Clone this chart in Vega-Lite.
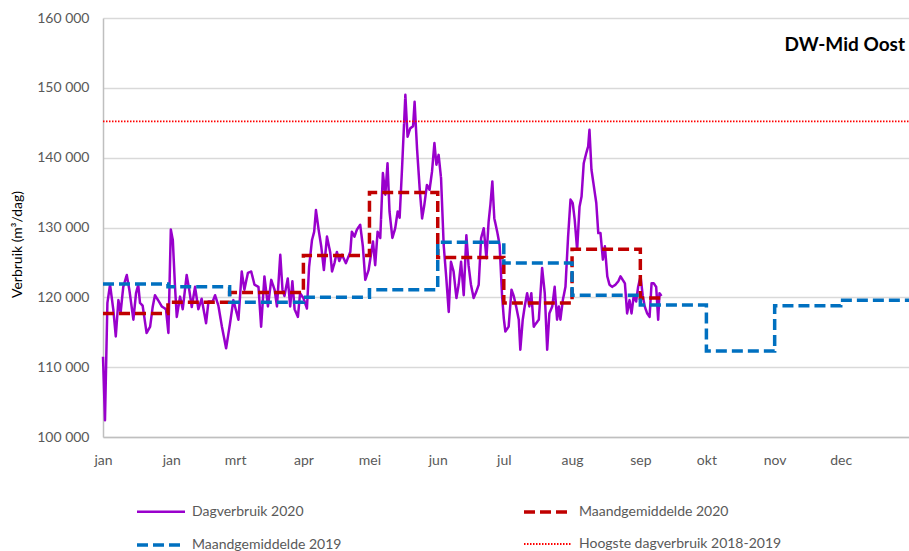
{
  "$schema": "https://vega.github.io/schema/vega-lite/v6.json",
  "width": 806,
  "height": 419,
  "autosize": {"type": "none"},
  "padding": {"left": 103, "top": 18, "right": 0, "bottom": 114},
  "background": "white",
  "config": {"view": {"stroke": null}, "font": "Lato", "legend": {"rowPadding": 0}},
  "title": {"text": "DW-Mid Oost", "anchor": "end", "frame": "group", "orient": "top", "offset": -44, "fontSize": 19, "fontWeight": "bold", "color": "#000000", "dx": -4},
  "datasets": {
    "dag": [
      {"s":"Dagverbruik 2020","d":0,"v":111500},{"s":"Dagverbruik 2020","d":0.9,"v":102400},{"s":"Dagverbruik 2020","d":2,"v":119200},{"s":"Dagverbruik 2020","d":3.2,"v":121800},{"s":"Dagverbruik 2020","d":4.7,"v":118200},{"s":"Dagverbruik 2020","d":5.8,"v":114400},{"s":"Dagverbruik 2020","d":7,"v":119600},{"s":"Dagverbruik 2020","d":8,"v":117800},{"s":"Dagverbruik 2020","d":9.2,"v":121500},{"s":"Dagverbruik 2020","d":10.8,"v":123200},{"s":"Dagverbruik 2020","d":12,"v":121000},{"s":"Dagverbruik 2020","d":13.8,"v":116800},{"s":"Dagverbruik 2020","d":15,"v":120600},{"s":"Dagverbruik 2020","d":16,"v":121800},{"s":"Dagverbruik 2020","d":16.8,"v":119200},{"s":"Dagverbruik 2020","d":18,"v":118800},{"s":"Dagverbruik 2020","d":19.8,"v":114900},{"s":"Dagverbruik 2020","d":21.4,"v":115800},{"s":"Dagverbruik 2020","d":22.6,"v":118700},{"s":"Dagverbruik 2020","d":23.6,"v":120300},{"s":"Dagverbruik 2020","d":25.2,"v":119500},{"s":"Dagverbruik 2020","d":26.7,"v":118700},{"s":"Dagverbruik 2020","d":28.6,"v":118300},{"s":"Dagverbruik 2020","d":29.7,"v":114900},{"s":"Dagverbruik 2020","d":30.8,"v":129700},{"s":"Dagverbruik 2020","d":31.7,"v":128200},{"s":"Dagverbruik 2020","d":32.7,"v":121500},{"s":"Dagverbruik 2020","d":33.5,"v":117200},{"s":"Dagverbruik 2020","d":35,"v":120100},{"s":"Dagverbruik 2020","d":36.2,"v":118300},{"s":"Dagverbruik 2020","d":38,"v":123200},{"s":"Dagverbruik 2020","d":39.2,"v":121000},{"s":"Dagverbruik 2020","d":40.3,"v":118600},{"s":"Dagverbruik 2020","d":41.8,"v":121500},{"s":"Dagverbruik 2020","d":43.3,"v":118300},{"s":"Dagverbruik 2020","d":44.8,"v":119800},{"s":"Dagverbruik 2020","d":46.8,"v":116300},{"s":"Dagverbruik 2020","d":47.9,"v":119400},{"s":"Dagverbruik 2020","d":49.8,"v":119400},{"s":"Dagverbruik 2020","d":50.9,"v":120300},{"s":"Dagverbruik 2020","d":52.4,"v":118800},{"s":"Dagverbruik 2020","d":54,"v":115800},{"s":"Dagverbruik 2020","d":55.9,"v":112700},{"s":"Dagverbruik 2020","d":57.7,"v":116300},{"s":"Dagverbruik 2020","d":59.2,"v":119600},{"s":"Dagverbruik 2020","d":61.5,"v":116800},{"s":"Dagverbruik 2020","d":63,"v":123700},{"s":"Dagverbruik 2020","d":64.2,"v":121100},{"s":"Dagverbruik 2020","d":65.8,"v":123500},{"s":"Dagverbruik 2020","d":67.3,"v":123700},{"s":"Dagverbruik 2020","d":68.8,"v":121800},{"s":"Dagverbruik 2020","d":70.6,"v":121500},{"s":"Dagverbruik 2020","d":71.8,"v":115800},{"s":"Dagverbruik 2020","d":73.3,"v":123000},{"s":"Dagverbruik 2020","d":74.9,"v":118700},{"s":"Dagverbruik 2020","d":76.4,"v":122500},{"s":"Dagverbruik 2020","d":77.9,"v":121100},{"s":"Dagverbruik 2020","d":79,"v":118700},{"s":"Dagverbruik 2020","d":80.5,"v":126100},{"s":"Dagverbruik 2020","d":81.5,"v":121100},{"s":"Dagverbruik 2020","d":82.4,"v":120200},{"s":"Dagverbruik 2020","d":83.9,"v":122700},{"s":"Dagverbruik 2020","d":85,"v":118700},{"s":"Dagverbruik 2020","d":86,"v":122300},{"s":"Dagverbruik 2020","d":87,"v":118300},{"s":"Dagverbruik 2020","d":88.5,"v":117200},{"s":"Dagverbruik 2020","d":89.5,"v":120600},{"s":"Dagverbruik 2020","d":91,"v":119900},{"s":"Dagverbruik 2020","d":92.6,"v":118400},{"s":"Dagverbruik 2020","d":93.6,"v":124400},{"s":"Dagverbruik 2020","d":94.9,"v":128200},{"s":"Dagverbruik 2020","d":95.9,"v":129400},{"s":"Dagverbruik 2020","d":96.7,"v":132500},{"s":"Dagverbruik 2020","d":97.9,"v":129700},{"s":"Dagverbruik 2020","d":99.1,"v":127300},{"s":"Dagverbruik 2020","d":100.3,"v":123900},{"s":"Dagverbruik 2020","d":101.7,"v":128700},{"s":"Dagverbruik 2020","d":103.2,"v":126400},{"s":"Dagverbruik 2020","d":104,"v":123700},{"s":"Dagverbruik 2020","d":105.1,"v":124900},{"s":"Dagverbruik 2020","d":106.2,"v":126500},{"s":"Dagverbruik 2020","d":107.3,"v":125200},{"s":"Dagverbruik 2020","d":108.5,"v":126100},{"s":"Dagverbruik 2020","d":110.3,"v":124900},{"s":"Dagverbruik 2020","d":112.3,"v":126500},{"s":"Dagverbruik 2020","d":113,"v":129400},{"s":"Dagverbruik 2020","d":114.2,"v":128700},{"s":"Dagverbruik 2020","d":115.3,"v":129700},{"s":"Dagverbruik 2020","d":116.8,"v":130400},{"s":"Dagverbruik 2020","d":118,"v":127300},{"s":"Dagverbruik 2020","d":119.1,"v":122500},{"s":"Dagverbruik 2020","d":120.6,"v":123900},{"s":"Dagverbruik 2020","d":122.6,"v":128000},{"s":"Dagverbruik 2020","d":123.6,"v":124600},{"s":"Dagverbruik 2020","d":124.7,"v":129400},{"s":"Dagverbruik 2020","d":125.9,"v":128500},{"s":"Dagverbruik 2020","d":127.1,"v":137800},{"s":"Dagverbruik 2020","d":128.2,"v":134700},{"s":"Dagverbruik 2020","d":129.2,"v":139200},{"s":"Dagverbruik 2020","d":130.1,"v":132300},{"s":"Dagverbruik 2020","d":131.4,"v":128500},{"s":"Dagverbruik 2020","d":132.7,"v":129900},{"s":"Dagverbruik 2020","d":133.8,"v":132300},{"s":"Dagverbruik 2020","d":134.7,"v":131400},{"s":"Dagverbruik 2020","d":135.8,"v":138500},{"s":"Dagverbruik 2020","d":137.3,"v":149000},{"s":"Dagverbruik 2020","d":138.3,"v":143000},{"s":"Dagverbruik 2020","d":139.5,"v":144200},{"s":"Dagverbruik 2020","d":140.8,"v":144500},{"s":"Dagverbruik 2020","d":141.5,"v":148000},{"s":"Dagverbruik 2020","d":142.6,"v":141300},{"s":"Dagverbruik 2020","d":143.8,"v":135600},{"s":"Dagverbruik 2020","d":144.9,"v":131300},{"s":"Dagverbruik 2020","d":145.9,"v":133200},{"s":"Dagverbruik 2020","d":147.1,"v":136100},{"s":"Dagverbruik 2020","d":148.3,"v":135400},{"s":"Dagverbruik 2020","d":149.4,"v":138000},{"s":"Dagverbruik 2020","d":150.5,"v":142100},{"s":"Dagverbruik 2020","d":151.4,"v":139000},{"s":"Dagverbruik 2020","d":152.4,"v":140400},{"s":"Dagverbruik 2020","d":153.5,"v":137100},{"s":"Dagverbruik 2020","d":154.7,"v":127500},{"s":"Dagverbruik 2020","d":155.9,"v":122700},{"s":"Dagverbruik 2020","d":157,"v":117900},{"s":"Dagverbruik 2020","d":158,"v":125100},{"s":"Dagverbruik 2020","d":159.2,"v":123700},{"s":"Dagverbruik 2020","d":160.5,"v":119900},{"s":"Dagverbruik 2020","d":161.5,"v":121800},{"s":"Dagverbruik 2020","d":162.6,"v":125100},{"s":"Dagverbruik 2020","d":163.8,"v":120300},{"s":"Dagverbruik 2020","d":165,"v":128900},{"s":"Dagverbruik 2020","d":166,"v":124600},{"s":"Dagverbruik 2020","d":167.1,"v":121800},{"s":"Dagverbruik 2020","d":168.3,"v":119900},{"s":"Dagverbruik 2020","d":169.5,"v":120800},{"s":"Dagverbruik 2020","d":170.6,"v":121800},{"s":"Dagverbruik 2020","d":171.7,"v":128500},{"s":"Dagverbruik 2020","d":172.9,"v":129900},{"s":"Dagverbruik 2020","d":174.1,"v":125600},{"s":"Dagverbruik 2020","d":175.1,"v":130800},{"s":"Dagverbruik 2020","d":175.9,"v":133200},{"s":"Dagverbruik 2020","d":176.8,"v":136600},{"s":"Dagverbruik 2020","d":177.7,"v":131300},{"s":"Dagverbruik 2020","d":179,"v":129400},{"s":"Dagverbruik 2020","d":180.1,"v":127500},{"s":"Dagverbruik 2020","d":181.2,"v":120300},{"s":"Dagverbruik 2020","d":182,"v":117000},{"s":"Dagverbruik 2020","d":182.7,"v":115100},{"s":"Dagverbruik 2020","d":184.2,"v":115800},{"s":"Dagverbruik 2020","d":185.5,"v":121100},{"s":"Dagverbruik 2020","d":186.5,"v":120200},{"s":"Dagverbruik 2020","d":187.6,"v":118700},{"s":"Dagverbruik 2020","d":188.8,"v":116800},{"s":"Dagverbruik 2020","d":189.5,"v":112500},{"s":"Dagverbruik 2020","d":190.6,"v":116800},{"s":"Dagverbruik 2020","d":191.5,"v":118700},{"s":"Dagverbruik 2020","d":192.6,"v":120600},{"s":"Dagverbruik 2020","d":193.6,"v":118700},{"s":"Dagverbruik 2020","d":194.5,"v":120600},{"s":"Dagverbruik 2020","d":195.6,"v":115800},{"s":"Dagverbruik 2020","d":196.7,"v":116300},{"s":"Dagverbruik 2020","d":197.9,"v":116800},{"s":"Dagverbruik 2020","d":199.4,"v":124200},{"s":"Dagverbruik 2020","d":200.6,"v":120600},{"s":"Dagverbruik 2020","d":201.7,"v":112500},{"s":"Dagverbruik 2020","d":202.7,"v":117700},{"s":"Dagverbruik 2020","d":204,"v":118700},{"s":"Dagverbruik 2020","d":205.1,"v":121500},{"s":"Dagverbruik 2020","d":206.2,"v":116800},{"s":"Dagverbruik 2020","d":207,"v":118700},{"s":"Dagverbruik 2020","d":207.7,"v":116800},{"s":"Dagverbruik 2020","d":208.8,"v":119600},{"s":"Dagverbruik 2020","d":210,"v":121500},{"s":"Dagverbruik 2020","d":211.2,"v":128700},{"s":"Dagverbruik 2020","d":212.3,"v":134000},{"s":"Dagverbruik 2020","d":213.3,"v":133500},{"s":"Dagverbruik 2020","d":214.2,"v":131100},{"s":"Dagverbruik 2020","d":215.3,"v":126800},{"s":"Dagverbruik 2020","d":216.4,"v":133000},{"s":"Dagverbruik 2020","d":217.3,"v":134400},{"s":"Dagverbruik 2020","d":218.3,"v":139200},{"s":"Dagverbruik 2020","d":219.4,"v":140600},{"s":"Dagverbruik 2020","d":220.3,"v":141600},{"s":"Dagverbruik 2020","d":220.9,"v":144000},{"s":"Dagverbruik 2020","d":221.8,"v":138300},{"s":"Dagverbruik 2020","d":222.9,"v":135900},{"s":"Dagverbruik 2020","d":224,"v":133500},{"s":"Dagverbruik 2020","d":224.9,"v":129200},{"s":"Dagverbruik 2020","d":225.9,"v":129200},{"s":"Dagverbruik 2020","d":227,"v":125400},{"s":"Dagverbruik 2020","d":227.9,"v":127300},{"s":"Dagverbruik 2020","d":229,"v":123000},{"s":"Dagverbruik 2020","d":230,"v":121800},{"s":"Dagverbruik 2020","d":231.2,"v":121500},{"s":"Dagverbruik 2020","d":232.7,"v":121800},{"s":"Dagverbruik 2020","d":234,"v":122300},{"s":"Dagverbruik 2020","d":235,"v":123000},{"s":"Dagverbruik 2020","d":236,"v":122500},{"s":"Dagverbruik 2020","d":237,"v":122000},{"s":"Dagverbruik 2020","d":238,"v":117700},{"s":"Dagverbruik 2020","d":239.1,"v":119600},{"s":"Dagverbruik 2020","d":240,"v":117700},{"s":"Dagverbruik 2020","d":241,"v":120200},{"s":"Dagverbruik 2020","d":242.1,"v":119400},{"s":"Dagverbruik 2020","d":243,"v":121500},{"s":"Dagverbruik 2020","d":244.1,"v":123000},{"s":"Dagverbruik 2020","d":245.1,"v":120200},{"s":"Dagverbruik 2020","d":246,"v":118700},{"s":"Dagverbruik 2020","d":247.1,"v":117700},{"s":"Dagverbruik 2020","d":248.2,"v":117200},{"s":"Dagverbruik 2020","d":249.1,"v":122000},{"s":"Dagverbruik 2020","d":250.1,"v":122000},{"s":"Dagverbruik 2020","d":251.2,"v":121500},{"s":"Dagverbruik 2020","d":252.1,"v":116800},{"s":"Dagverbruik 2020","d":252.7,"v":120600},{"s":"Dagverbruik 2020","d":253.6,"v":120200}
    ],
    "maand": [
      {"s":"Maandgemiddelde 2020","d":0,"v":117700},{"s":"Maandgemiddelde 2020","d":29.5,"v":119300},{"s":"Maandgemiddelde 2020","d":57.5,"v":120700},{"s":"Maandgemiddelde 2020","d":91,"v":126000},{"s":"Maandgemiddelde 2020","d":121,"v":135000},{"s":"Maandgemiddelde 2020","d":152,"v":125700},{"s":"Maandgemiddelde 2020","d":182,"v":119200},{"s":"Maandgemiddelde 2020","d":213,"v":126900},{"s":"Maandgemiddelde 2020","d":244,"v":119900},{"s":"Maandgemiddelde 2020","d":254,"v":119900},
      {"s":"Maandgemiddelde 2019","d":0,"v":121900},{"s":"Maandgemiddelde 2019","d":29.5,"v":121500},{"s":"Maandgemiddelde 2019","d":57.5,"v":119300},{"s":"Maandgemiddelde 2019","d":91,"v":120000},{"s":"Maandgemiddelde 2019","d":121,"v":121100},{"s":"Maandgemiddelde 2019","d":152,"v":127900},{"s":"Maandgemiddelde 2019","d":182,"v":124900},{"s":"Maandgemiddelde 2019","d":213,"v":120300},{"s":"Maandgemiddelde 2019","d":244,"v":118900},{"s":"Maandgemiddelde 2019","d":274,"v":112300},{"s":"Maandgemiddelde 2019","d":305,"v":118800},{"s":"Maandgemiddelde 2019","d":335,"v":119600},{"s":"Maandgemiddelde 2019","d":366,"v":119600}
    ],
    "max": [
      {"s":"Hoogste dagverbruik 2018-2019","d":0,"v":145200},{"s":"Hoogste dagverbruik 2018-2019","d":366,"v":145200}
    ]
  },
  "encoding": {
    "x": {"field": "d", "type": "quantitative", "scale": {"domain": [0, 366], "nice": false, "zero": false},
      "axis": {"title": null, "grid": false, "ticks": false, "values": [0,31,60,91,121,152,182,213,244,274,305,335],
        "labelExpr": "['jan','jan','mrt','apr','mei','jun','jul','aug','sep','okt','nov','dec'][indexof([0,31,60,91,121,152,182,213,244,274,305,335], datum.value)]",
        "labelFontSize": 14, "labelColor": "#595959", "labelPadding": 16, "labelFlush": false, "labelOverlap": false,
        "domainColor": "#BFBFBF", "domainWidth": 1.5}},
    "y": {"field": "v", "type": "quantitative", "scale": {"domain": [100000, 160000], "nice": false, "zero": false},
      "axis": {"values": [100000,110000,120000,130000,140000,150000,160000],
        "labelExpr": "replace(format(datum.value, ','), ',', ' ')",
        "title": "Verbruik (m³/dag)", "titleFontSize": 14, "titleFontWeight": "normal", "titleColor": "#000000", "titlePadding": 12, "titleY": 226,
        "grid": true, "gridColor": "#D9D9D9", "gridWidth": 1.5, "ticks": false,
        "labelFontSize": 14, "labelColor": "#595959", "labelPadding": 14,
        "domainColor": "#BFBFBF", "domainWidth": 1.5}},
    "color": {"field": "s", "type": "nominal",
      "scale": {"domain": ["Dagverbruik 2020","Maandgemiddelde 2019","Maandgemiddelde 2020","Hoogste dagverbruik 2018-2019"],
        "range": ["#9900CC","#0070C0","#C00000","#FF0000"]},
      "legend": {"orient": "none", "legendX": 32, "legendY": 468, "columns": 2, "columnPadding": 175, "title": null, "labelLimit": 400,
        "symbolType": "stroke", "symbolSize": 2304, "labelFontSize": 14, "labelColor": "#595959", "labelOffset": 5}},
    "strokeDash": {"field": "s", "type": "nominal",
      "scale": {"domain": ["Dagverbruik 2020","Maandgemiddelde 2019","Maandgemiddelde 2020","Hoogste dagverbruik 2018-2019"],
        "range": [[1,0],[11,5],[11,5],[1.5,1.5]]},
      "legend": {"orient": "none", "legendX": 32, "legendY": 468, "columns": 2, "columnPadding": 175, "title": null, "labelLimit": 400,
        "symbolType": "stroke", "symbolSize": 2304, "labelFontSize": 14, "labelColor": "#595959", "labelOffset": 5}},
    "strokeWidth": {"field": "s", "type": "nominal",
      "scale": {"type": "ordinal", "domain": ["Dagverbruik 2020","Maandgemiddelde 2019","Maandgemiddelde 2020","Hoogste dagverbruik 2018-2019"],
        "range": [2.5, 3.5, 3.5, 1.8]},
      "legend": {"orient": "none", "legendX": 32, "legendY": 468, "columns": 2, "columnPadding": 175, "title": null, "labelLimit": 400,
        "symbolType": "stroke", "symbolSize": 2304, "labelFontSize": 14, "labelColor": "#595959", "labelOffset": 5}}
  },
  "layer": [
    {"data": {"name": "dag"}, "mark": {"type": "line", "strokeJoin": "round"}},
    {"data": {"name": "maand"}, "mark": {"type": "line", "interpolate": "step-after"}},
    {"data": {"name": "max"}, "mark": {"type": "line"}}
  ]
}
